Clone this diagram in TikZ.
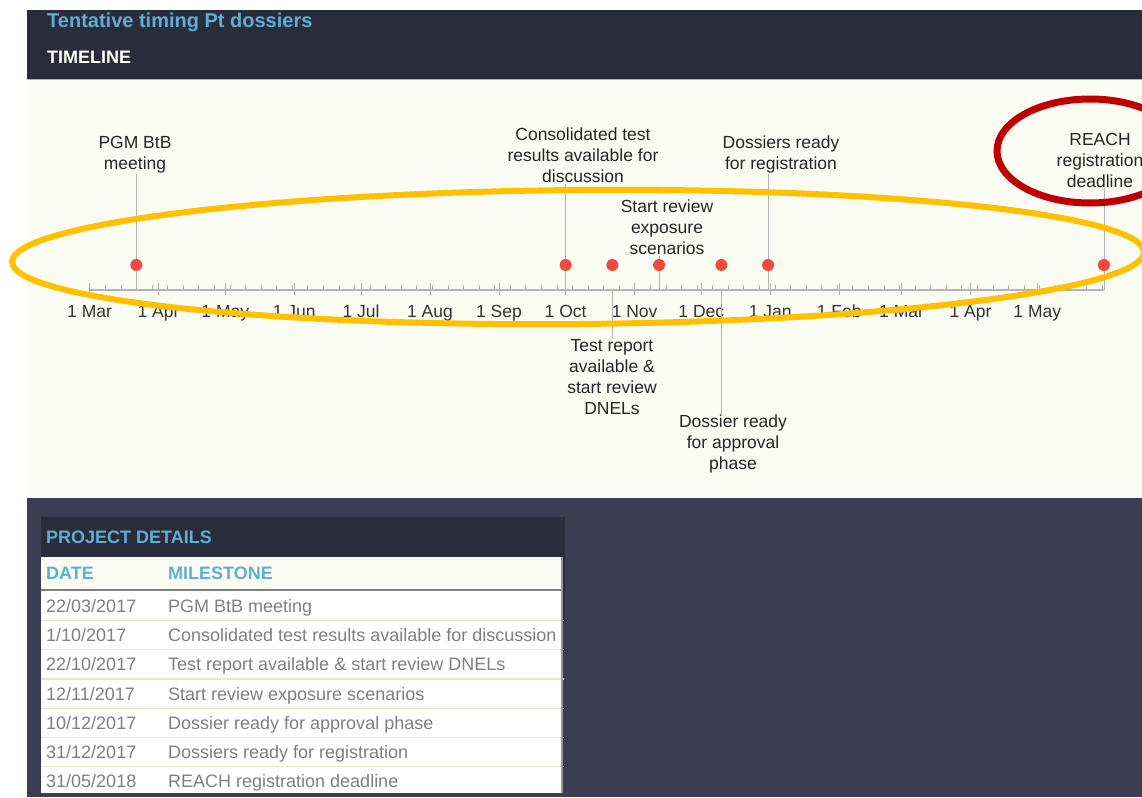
\documentclass[tikz,border=0pt]{standalone}
\usepackage{fontspec}
\setmainfont{Liberation Sans}
\usepackage{xcolor}
\usetikzlibrary{positioning,calc}
\definecolor{hdrdark}{HTML}{2B2C3B}
\definecolor{basedark}{HTML}{3C3D52}
\definecolor{cream}{HTML}{FAFBF3}
\definecolor{titleblue}{HTML}{5DAFD3}
\definecolor{dotred}{HTML}{F04A3E}
\definecolor{axisgray}{HTML}{B3B3B3}
\definecolor{rowline}{HTML}{E4E9CC}
\definecolor{ringyellow}{HTML}{FFC000}
\definecolor{ringred}{HTML}{C00000}
\definecolor{cellgray}{HTML}{7F7F7F}

\begin{document}
\begin{tikzpicture}[x=1pt, y=-1pt,
  lbl/.style={align=center, inner sep=1pt, text=black!85, font=\fontsize{17.5}{21}\selectfont},
  mlbl/.style={anchor=base, inner sep=0pt, text=black!80, font=\fontsize{17.5}{21}\selectfont},
  dotmark/.style={circle, fill=dotred, inner sep=0pt, minimum size=12pt},
  drop/.style={draw=axisgray, line width=0.9pt},
  cell/.style={anchor=base west, inner sep=0pt, text=cellgray, font=\fontsize{18}{21}\selectfont},
  head/.style={anchor=base west, inner sep=0pt, text=titleblue, font=\bfseries\fontsize{18}{21}\selectfont}]
	\useasboundingbox (0,0) rectangle (1142,797);
	\clip (0,0) rectangle (1142,797);
	\fill[white] (0,0) rectangle (1142,797);
	\fill[hdrdark] (27,10) rectangle (1142,79);
	\fill[cream] (27,79) rectangle (1142,498);
	\draw[gray!60] (27,79.5) -- (1142,79.5);
	\fill[basedark] (27,498) rectangle (1142,797);

	\node[head, font=\bfseries\fontsize{20}{24}\selectfont] (title) at (47,28) {Tentative timing Pt dossiers};
	\node[head, text=white] (tline) at (47,64) {TIMELINE};

	\node[lbl] (pgm) at (135,154.5) {PGM BtB\\meeting};
	\node[lbl] (cons) at (583,155) {Consolidated test\\results available for\\discussion};
	\node[lbl] (expo) at (667,227) {Start review\\exposure\\scenarios};
	\node[lbl] (regis) at (781,154.5) {Dossiers ready\\for registration};
	\node[lbl] (reach) at (1100,160) {REACH\\registration\\deadline};
	\node[lbl] (dnel) at (612,377.5) {Test report\\available \&\\start review\\DNELs};
	\node[lbl] (appr) at (733,444) {Dossier ready\\for approval\\phase};

	\begin{scope}[xshift=89.6pt, x=2.2245pt]
		\draw[axisgray, line width=1.4pt] (0,290) -- (456,290);
		\foreach \d in {0,7,...,455}
			\draw[axisgray] (\d,290) -- (\d,285);
		\foreach \d/\m [count=\i] in {0/Mar,31/Apr,61/May,92/Jun,122/Jul,153/Aug,184/Sep,214/Oct,245/Nov,275/Dec,306/Jan,337/Feb,365/Mar,396/Apr,426/May}{
			\draw[axisgray] (\d,283) -- (\d,295);
			\node[mlbl] (mon\i) at (\d,317) {1 \m};
		}
		\coordinate (t1) at (21,290);
		\coordinate (t2) at (214,290);
		\coordinate (t3) at (235,290);
		\coordinate (t4) at (256,290);
		\coordinate (t5) at (284,290);
		\coordinate (t6) at (305,290);
		\coordinate (t7) at (456,290);
	\end{scope}

	\draw[drop] (t1) -- (t1 |- pgm.south);
	\draw[drop] (t2) -- (t2 |- cons.south);
	\draw[drop] (t3) -- (t3 |- dnel.north);
	\draw[drop] (t4) -- (t4 |- expo.south);
	\draw[drop] (t5) -- (t5 |- appr.north);
	\draw[drop] (t6) -- (t6 |- regis.south);
	\draw[drop] (t7) -- (t7 |- reach.south);
	\foreach \i in {1,...,7}
		\node[dotmark] (d\i) at ([yshift=25pt]t\i) {};

	\fill[hdrdark] (41,517) rectangle (565,620);
	\node[head] (pdet) at (46,543) {PROJECT DETAILS};
	\fill[cream] (41,557) rectangle (562,589);
	\fill[white] (41,591) rectangle (562,793);
	\draw[gray, line width=2pt] (41,590) -- (562,590);
	\foreach \y in {620.5,649.7,678.9,708.1,737.3,766.5}
		\draw[rowline, line width=1.2pt] (41,\y) -- (564,\y);
	\draw[gray!80, line width=1.2pt] (562,557) -- (562,793);
	\node[head] (date) at (46,579) {DATE};
	\node[head] (mile) at (168,579) {MILESTONE};
	\foreach \y/\dt/\ms [count=\i] in {612.5/{22/03/2017}/{PGM BtB meeting},
		641.7/{1/10/2017}/{Consolidated test results available for discussion},
		670.9/{22/10/2017}/{Test report available \& start review DNELs},
		700.1/{12/11/2017}/{Start review exposure scenarios},
		729.3/{10/12/2017}/{Dossier ready for approval phase},
		758.5/{31/12/2017}/{Dossiers ready for registration},
		787.7/{31/05/2018}/{REACH registration deadline}}{
		\node[cell] (dt\i) at (46,\y) {\dt};
		\node[cell] (ms\i) at (168,\y) {\ms};
	}

	\draw[ringyellow, line width=6pt, rotate around={0.5:(578,257)}] (578,257) ellipse [x radius=566pt, y radius=67pt];
	\draw[ringred, line width=7pt] (1090,151) ellipse [x radius=93pt, y radius=52pt];
\end{tikzpicture}
\end{document}
